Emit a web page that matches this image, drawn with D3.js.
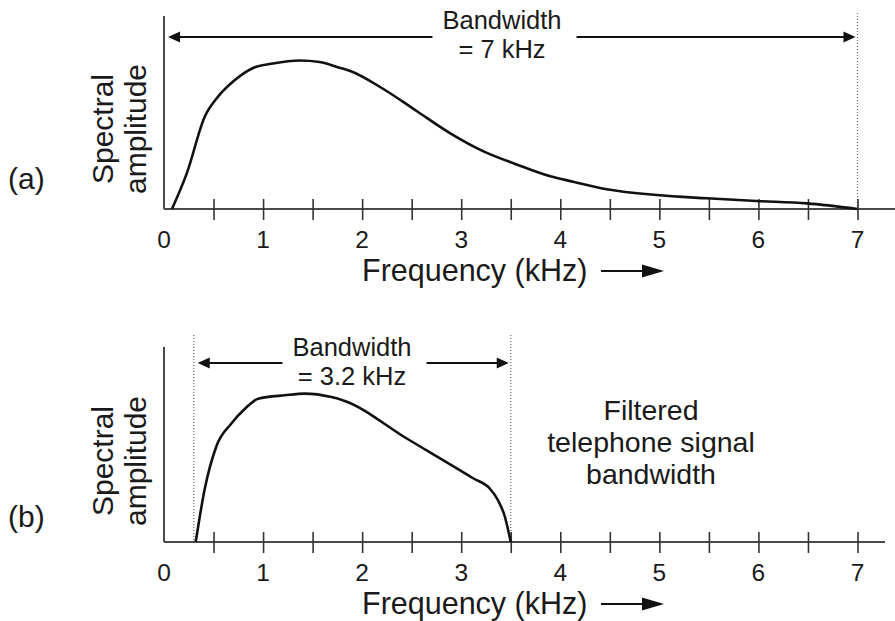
<!DOCTYPE html>
<html>
<head>
<meta charset="utf-8">
<script src="https://cdn.jsdelivr.net/npm/d3@7"></script>
<style>
  html, body { margin: 0; padding: 0; background: #fff; }
  svg { display: block; font-family: "Liberation Sans", Arial, Helvetica, sans-serif; }
</style>
</head>
<body>
<svg id="chart" width="895" height="621"></svg>
<script>
// ---- data ----
const tickValues = [0.5, 1, 1.5, 2, 2.5, 3, 3.5, 4, 4.5, 5, 5.5, 6, 6.5, 7];
const tickLabels = [0, 1, 2, 3, 4, 5, 6, 7];

// (a) full speech spectrum (relative amplitude, % of peak)
const fullFreq = [0.08, 0.23, 0.41, 0.55, 0.70, 0.90, 1.10, 1.37, 1.57, 1.78, 1.88, 2.21, 2.55, 2.89, 3.22, 3.56, 3.90, 4.13, 4.47, 4.97, 5.48, 5.98, 6.49, 7.0];
const fullAmp  = [0, 24, 62, 76, 86, 95, 98, 100, 99, 95, 93, 81, 66, 51, 39, 30, 22, 18.4, 13.3, 9.4, 7.2, 5.4, 3.8, 0];

// (b) filtered telephone spectrum
const telFreq = [0.32, 0.41, 0.53, 0.68, 0.82, 0.95, 1.22, 1.42, 1.69, 1.81, 2.45, 3.12, 3.29, 3.37, 3.44, 3.50];
const telAmp  = [0, 35, 64, 79, 89, 95.5, 97.8, 98.9, 96.6, 94.4, 69, 42.5, 35.5, 28, 17, 0];

const bandA = [0, 7];
const bandB = [0.3, 3.5];
const bandLabelA = ["Bandwidth", "= 7 kHz"];
const bandLabelB = ["Bandwidth", "= 3.2 kHz"];
const noteB = ["Filtered", "telephone signal", "bandwidth"];

// ---- drawing ----
const svg = d3.select("#chart");
const x = d3.scaleLinear().domain([0, 7]).range([164, 857.5]);
const TXT = "#1a1a1a", AX = "#4a4a4a";

function panel(opts) {
  const y = d3.scaleLinear().domain([0, 130]).range([opts.base, opts.top]);
  const g = svg.append("g");

  // dotted band limits
  opts.dotted.forEach(f => {
    g.append("line")
      .attr("x1", x(f)).attr("x2", x(f))
      .attr("y1", opts.dotTop).attr("y2", opts.base)
      .attr("stroke", "#666").attr("stroke-width", 1.2)
      .attr("stroke-dasharray", "1,2");
  });

  // y axis line
  g.append("line").attr("x1", x(0)).attr("x2", x(0))
    .attr("y1", y(130)).attr("y2", opts.base)
    .attr("stroke", AX).attr("stroke-width", 2);

  // x axis line
  g.append("line").attr("x1", x(0)).attr("x2", opts.axisEnd)
    .attr("y1", opts.base).attr("y2", opts.base)
    .attr("stroke", AX).attr("stroke-width", 2.2);

  // ticks via d3 axis
  const ax = d3.axisBottom(x).tickValues(tickValues).tickSize(10)
    .tickFormat(d => Number.isInteger(d) ? d : "");
  const axg = g.append("g").attr("transform", `translate(0,${opts.base})`).call(ax);
  axg.select(".domain").remove();
  axg.selectAll(".tick line").attr("y1", -10).attr("y2", 11)
    .attr("stroke", "#333").attr("stroke-width", 1.6);
  axg.selectAll(".tick text").remove();

  // tick labels
  g.selectAll("text.tl").data(tickLabels).join("text")
    .attr("class", "tl")
    .attr("x", d => x(d)).attr("y", opts.base + 39)
    .attr("text-anchor", "middle").attr("font-size", 24.5).attr("fill", TXT)
    .text(d => d);

  // x title + arrow
  g.append("text").attr("x", 362).attr("y", opts.base + 72)
    .attr("font-size", 30.5).attr("fill", TXT).text("Frequency (kHz)");
  const ay = opts.base + 62;
  g.append("line").attr("x1", 601).attr("x2", 645).attr("y1", ay).attr("y2", ay)
    .attr("stroke", "#111").attr("stroke-width", 2);
  g.append("path").attr("d", `M${664},${ay} L${642},${ay - 6.5} L${642},${ay + 6.5} Z`).attr("fill", "#111");

  // y title
  const yc = opts.yTitleCenter;
  g.append("text").attr("transform", `translate(113,${yc}) rotate(-90)`)
    .attr("text-anchor", "middle").attr("font-size", 30).attr("fill", TXT)
    .call(t => {
      t.append("tspan").attr("x", 0).attr("y", 0).text("Spectral");
      t.append("tspan").attr("x", 0).attr("y", 33).text("amplitude");
    });

  // panel label
  g.append("text").attr("x", 8).attr("y", opts.labelY)
    .attr("font-size", 30).attr("fill", TXT).text(opts.label);

  // curve
  const line = d3.line().x(d => x(d[0])).y(d => y(d[1])).curve(d3.curveMonotoneX);
  g.append("path").datum(d3.zip(opts.freq, opts.amp))
    .attr("d", line).attr("fill", "none")
    .attr("stroke", "#111").attr("stroke-width", 2.6).attr("stroke-linejoin", "round");

  // bandwidth annotation
  const cx = opts.bandCx;
  const t1 = g.append("text").attr("text-anchor", "middle").attr("font-size", 25.5).attr("fill", TXT);
  const s1 = t1.append("tspan").attr("x", cx).attr("y", opts.bandY1).text(opts.bandLabel[0]);
  t1.append("tspan").attr("x", cx).attr("y", opts.bandY1 + 29).text(opts.bandLabel[1]);
  const w = s1.node().getComputedTextLength();
  const yA = opts.arrowY;
  const xl = x(opts.band[0]) + opts.tipPad[0], xr = x(opts.band[1]) - opts.tipPad[1];
  g.append("line").attr("x1", xl + 8).attr("x2", cx - w / 2 - 10).attr("y1", yA).attr("y2", yA)
    .attr("stroke", "#111").attr("stroke-width", 1.8);
  g.append("line").attr("x1", cx + w / 2 + 15).attr("x2", xr - 8).attr("y1", yA).attr("y2", yA)
    .attr("stroke", "#111").attr("stroke-width", 1.8);
  g.append("path").attr("d", `M${xl},${yA} L${xl + 12},${yA - 5.5} L${xl + 12},${yA + 5.5} Z`).attr("fill", "#111");
  g.append("path").attr("d", `M${xr},${yA} L${xr - 12},${yA - 5.5} L${xr - 12},${yA + 5.5} Z`).attr("fill", "#111");
  return g;
}

panel({
  base: 209, top: 16, axisEnd: 895, dotted: [7], dotTop: 13,
  yTitleCenter: 129, label: "(a)", labelY: 189,
  freq: fullFreq, amp: fullAmp,
  band: bandA, bandLabel: bandLabelA, bandCx: 502, bandY1: 29, arrowY: 37, tipPad: [4, 2]
});

const gb = panel({
  base: 542, top: 347, axisEnd: 885, dotted: bandB, dotTop: 335,
  yTitleCenter: 461, label: "(b)", labelY: 527,
  freq: telFreq, amp: telAmp,
  band: bandB, bandLabel: bandLabelB, bandCx: 352, bandY1: 356, arrowY: 363, tipPad: [4, 2]
});

const note = gb.append("text").attr("text-anchor", "middle")
  .attr("font-size", 28.5).attr("fill", TXT);
note.selectAll("tspan").data(noteB).join("tspan")
  .attr("x", 651).attr("y", (d, i) => 420 + i * 32)
  .text(d => d);
</script>
</body>
</html>
